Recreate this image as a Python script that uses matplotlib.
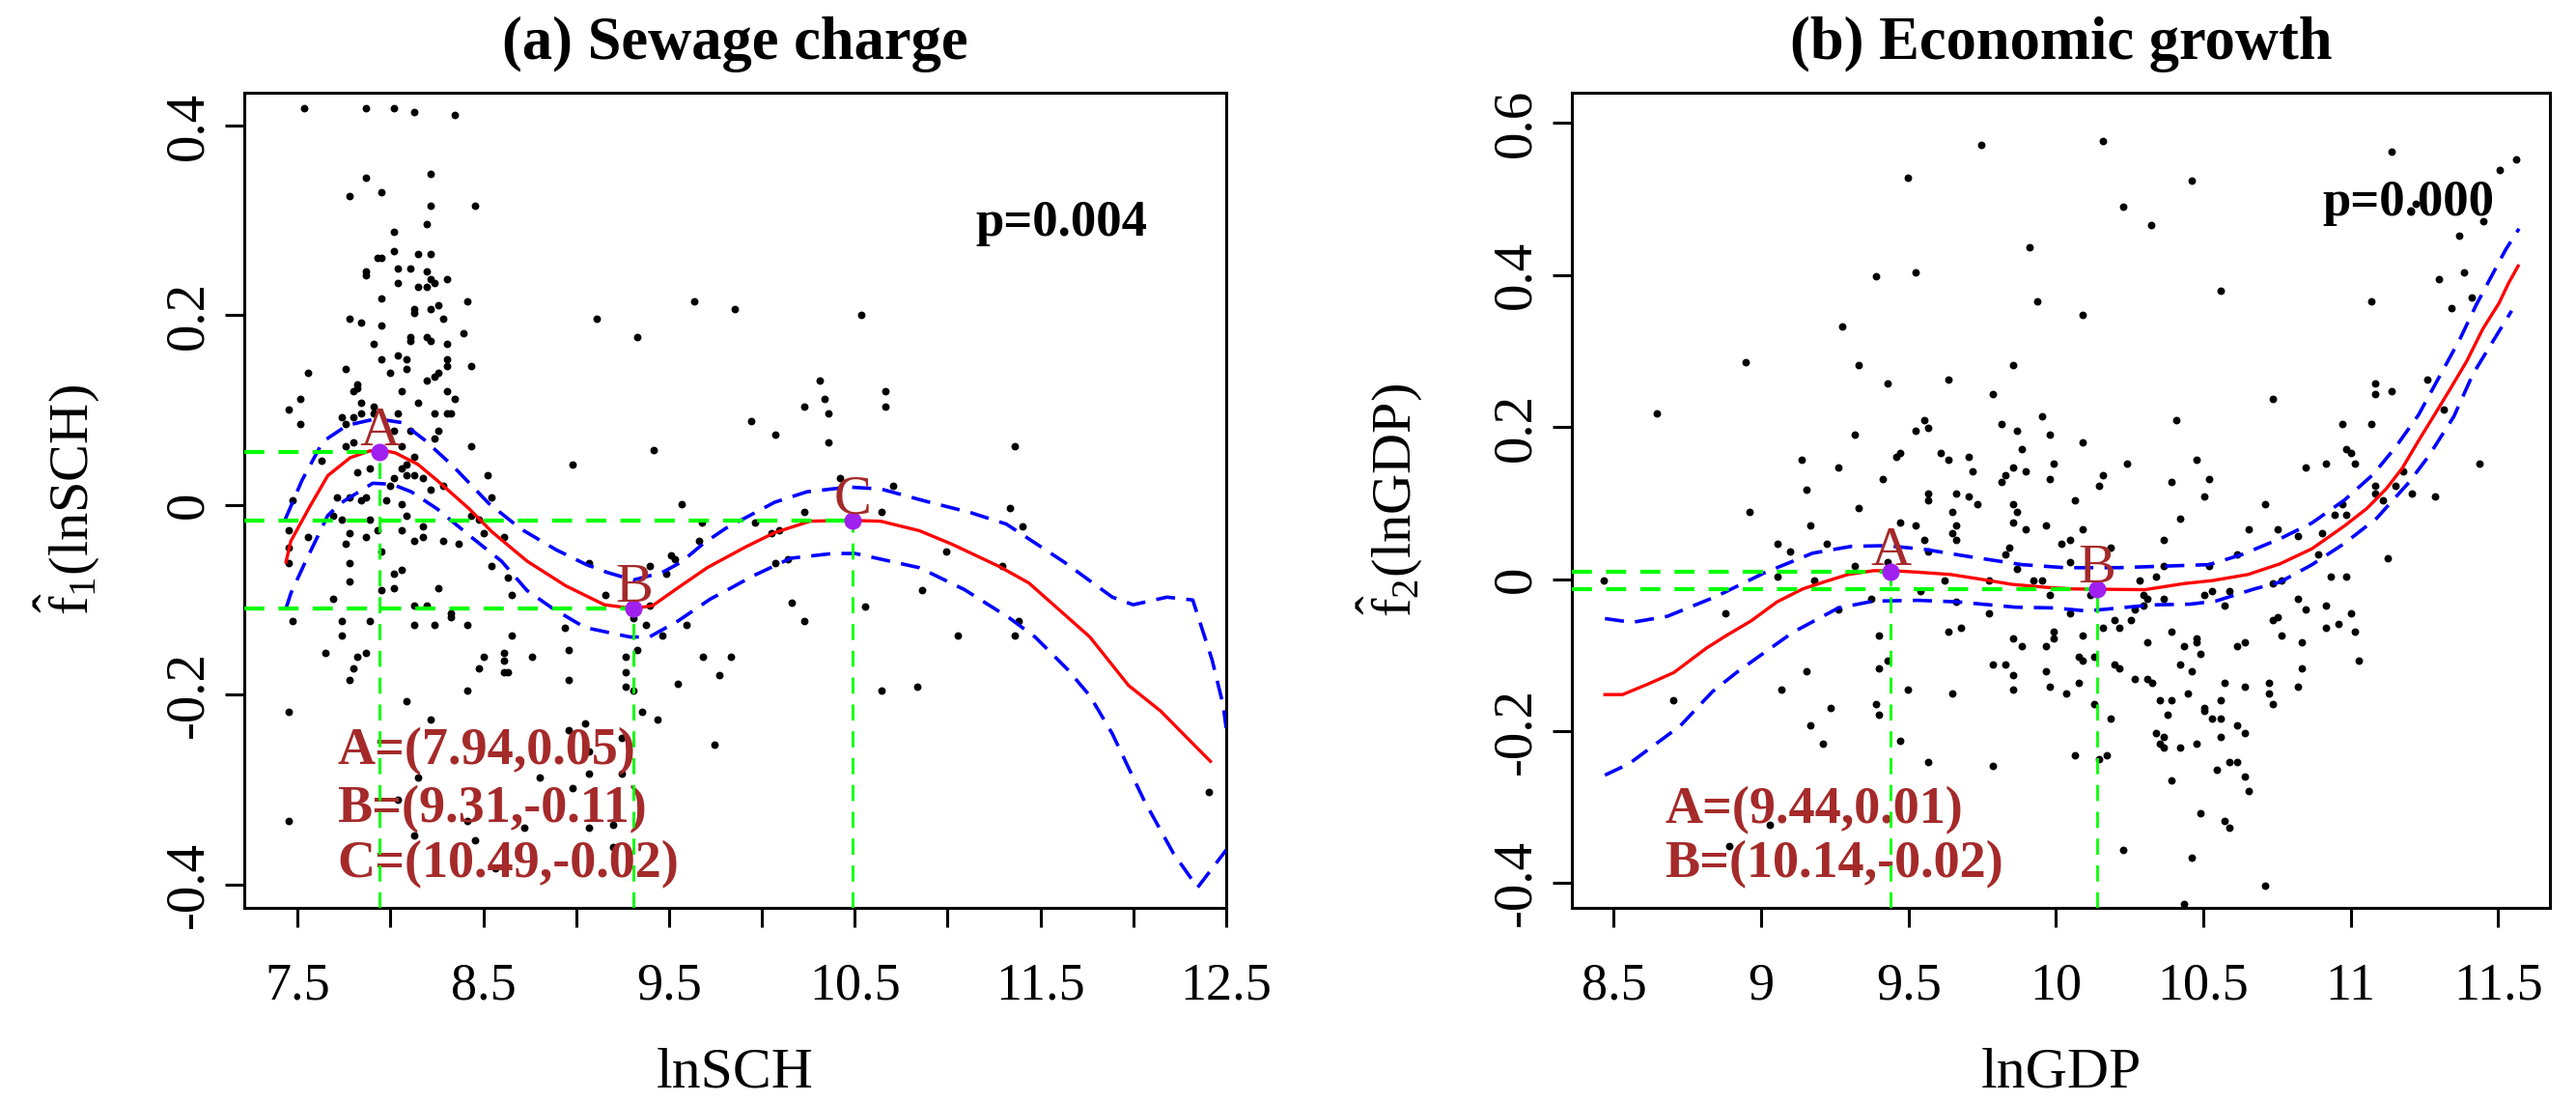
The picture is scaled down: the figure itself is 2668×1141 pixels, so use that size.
import numpy as np
import matplotlib
matplotlib.use('Agg')
import matplotlib.pyplot as plt

plt.rcParams['font.family'] = 'Liberation Serif'
plt.rcParams['mathtext.fontset'] = 'custom'
plt.rcParams['mathtext.rm'] = 'Liberation Serif'
plt.rcParams['mathtext.it'] = 'Liberation Serif:italic'
plt.rcParams['mathtext.bf'] = 'Liberation Serif:bold'

# ---------------- (a) sewage charge : partial residuals ----------------
sch_pts = [
    (7.537, 0.418), (7.866, 0.418), (8.019, 0.418), (8.129, 0.414), (8.348, 0.411),
    (7.866, 0.345), (8.216, 0.349), (7.778, 0.326), (7.953, 0.330), (8.216, 0.315),
    (8.457, 0.315), (8.193, 0.296), (8.019, 0.288), (8.019, 0.268), (8.150, 0.265),
    (8.216, 0.265), (7.932, 0.261), (7.953, 0.261), (8.041, 0.249), (8.107, 0.249),
    (7.866, 0.246), (8.193, 0.246), (7.866, 0.242), (8.216, 0.238), (8.238, 0.234),
    (8.303, 0.238), (8.041, 0.234), (8.150, 0.230), (8.193, 0.230), (7.953, 0.218),
    (8.413, 0.215), (8.260, 0.211), (8.216, 0.207), (8.129, 0.207), (8.129, 0.203),
    (7.778, 0.196), (7.843, 0.192), (8.282, 0.196), (7.953, 0.189), (8.391, 0.181),
    (8.107, 0.177), (8.193, 0.177), (8.107, 0.173), (8.216, 0.173), (7.910, 0.170),
    (8.303, 0.170), (8.041, 0.158), (7.953, 0.154), (8.084, 0.154), (8.303, 0.154),
    (7.757, 0.143), (8.084, 0.143), (8.303, 0.147), (8.434, 0.147), (7.558, 0.139),
    (7.996, 0.139), (8.260, 0.139), (8.238, 0.135), (8.193, 0.131), (7.821, 0.127),
    (7.821, 0.123), (7.800, 0.120), (8.062, 0.120), (8.303, 0.120), (7.515, 0.112),
    (8.348, 0.112), (7.843, 0.108), (8.150, 0.108), (7.910, 0.104), (7.451, 0.101),
    (7.843, 0.097), (7.910, 0.097), (8.041, 0.097), (8.238, 0.097), (8.303, 0.097),
    (8.325, 0.097), (7.735, 0.093), (7.800, 0.093), (7.515, 0.085), (7.757, 0.085),
    (8.260, 0.078), (8.107, 0.078), (8.019, 0.078), (8.238, 0.070), (7.800, 0.066),
    (7.757, 0.062), (8.062, 0.062), (8.434, 0.062), (7.626, 0.047), (8.129, 0.051),
    (7.887, 0.039), (7.821, 0.035), (8.062, 0.039), (8.084, 0.043), (8.084, 0.032),
    (8.129, 0.032), (8.173, 0.028), (8.019, 0.028), (8.216, 0.016), (8.282, 0.020),
    (7.996, 0.020), (7.714, 0.008), (7.778, 0.008), (7.866, 0.008), (7.843, 0.005),
    (7.975, 0.005), (8.062, 0.001), (7.471, 0.005), (7.691, -0.011), (7.735, -0.015),
    (7.887, -0.015), (8.084, -0.011), (7.451, -0.026), (7.932, -0.026), (8.062, -0.026),
    (8.173, -0.022), (7.778, -0.030), (7.558, -0.034), (7.866, -0.034), (8.129, -0.038),
    (8.173, -0.034), (8.282, -0.038), (8.369, -0.041), (7.757, -0.041), (7.451, -0.045),
    (7.953, -0.049), (7.451, -0.061), (7.778, -0.061), (8.019, -0.072), (8.062, -0.068),
    (7.778, -0.080), (7.953, -0.090), (8.019, -0.088), (8.260, -0.088),
    (9.111, 0.196), (9.331, 0.177), (9.636, 0.215), (9.854, 0.207), (8.981, 0.043),
    (9.418, 0.058), (8.522, 0.032), (8.543, 0.008), (8.434, -0.011), (8.478, -0.015),
    (8.500, -0.030), (8.609, -0.034), (9.570, 0.001), (9.679, -0.018), (9.659, -0.038),
    (9.068, -0.061), (9.508, -0.053), (9.532, -0.057), (9.397, -0.064), (9.486, -0.072),
    (8.543, -0.064), (8.631, -0.076),
    (7.691, -0.099), (8.129, -0.106), (8.193, -0.106), (8.325, -0.114), (8.325, -0.118),
    (9.155, -0.095), (9.397, -0.106), (9.309, -0.119), (8.652, -0.095), (7.471, -0.122),
    (7.735, -0.122), (7.887, -0.122), (8.129, -0.126), (8.238, -0.126), (8.413, -0.126),
    (8.937, -0.129), (9.374, -0.126), (9.593, -0.126), (7.735, -0.137), (8.652, -0.137),
    (9.463, -0.137), (7.648, -0.156), (7.865, -0.156), (7.821, -0.160), (8.500, -0.160),
    (8.609, -0.156), (8.762, -0.160), (8.959, -0.153), (9.265, -0.160), (9.331, -0.153),
    (9.681, -0.160), (9.833, -0.160), (7.800, -0.172), (8.478, -0.172), (8.609, -0.164),
    (8.609, -0.176), (8.631, -0.176), (9.265, -0.176), (7.778, -0.184), (8.959, -0.184),
    (9.768, -0.179), (9.265, -0.191), (9.309, -0.195), (9.549, -0.188), (8.413, -0.195),
    (8.084, -0.207), (7.451, -0.218), (9.352, -0.218), (8.216, -0.226), (9.440, -0.226),
    (8.959, -0.237), (9.047, -0.230), (9.245, -0.245), (9.747, -0.252), (9.068, -0.260),
    (8.150, -0.287), (8.805, -0.287), (9.068, -0.283), (9.245, -0.283), (8.981, -0.298),
    (8.041, -0.310), (8.413, -0.333), (8.720, -0.340), (9.068, -0.340), (9.200, -0.337),
    (7.451, -0.333), (8.129, -0.348), (8.457, -0.353), (9.200, -0.360), (8.564, -0.383),
    (10.533, 0.200), (10.313, 0.131), (10.663, 0.120), (10.663, 0.104), (10.226, 0.104),
    (10.335, 0.112), (10.358, 0.097), (9.942, 0.089), (10.072, 0.074), (10.358, 0.066),
    (11.359, 0.062), (10.422, 0.028), (10.708, 0.020), (10.226, -0.007), (10.642, -0.007),
    (11.336, -0.003), (11.402, -0.022), (9.965, -0.018), (10.051, -0.030), (10.095, -0.026),
    (10.992, -0.049), (10.072, -0.061), (10.138, -0.057), (11.293, -0.064), (10.860, -0.090),
    (10.161, -0.103), (10.226, -0.122), (10.554, -0.107), (11.056, -0.137), (11.359, -0.137),
    (11.381, -0.122), (10.642, -0.195), (10.838, -0.191), (12.406, -0.302),
]

sch_fit = [
    (7.437, -0.060), (7.463, -0.038), (7.567, -0.001), (7.662, 0.031), (7.783, 0.050),
    (7.887, 0.057), (7.956, 0.058), (8.026, 0.055), (8.147, 0.043), (8.251, 0.026),
    (8.424, -0.004), (8.545, -0.028), (8.735, -0.059), (8.943, -0.085), (9.151, -0.105),
    (9.307, -0.109), (9.411, -0.106), (9.549, -0.087), (9.705, -0.066), (9.913, -0.044),
    (10.069, -0.029), (10.259, -0.017), (10.467, -0.016), (10.640, -0.017), (10.848, -0.027),
    (11.021, -0.041), (11.281, -0.065), (11.437, -0.082), (11.593, -0.109), (11.766, -0.139),
    (11.974, -0.190), (12.147, -0.217), (12.268, -0.241), (12.415, -0.270),
]
sch_upper = [
    (7.433, -0.015), (7.523, 0.026), (7.636, 0.067), (7.766, 0.084), (7.922, 0.091),
    (8.060, 0.087), (8.181, 0.069), (8.337, 0.041), (8.528, 0.002), (8.701, -0.025),
    (8.891, -0.047), (9.047, -0.062), (9.168, -0.071), (9.307, -0.079), (9.463, -0.071),
    (9.566, -0.060), (9.688, -0.040), (9.809, -0.024), (10.069, 0.003), (10.242, 0.014),
    (10.467, 0.019), (10.640, 0.017), (10.883, 0.004), (11.125, -0.008), (11.316, -0.020),
    (11.627, -0.060), (11.887, -0.097), (11.999, -0.105), (12.181, -0.097), (12.320, -0.100),
    (12.424, -0.163), (12.484, -0.211), (12.500, -0.235),
]
sch_lower = [
    (7.437, -0.109), (7.463, -0.093), (7.541, -0.060), (7.662, -0.011), (7.731, 0.002),
    (7.904, 0.023), (8.008, 0.022), (8.112, 0.014), (8.251, -0.004), (8.424, -0.032),
    (8.597, -0.059), (8.735, -0.090), (8.874, -0.109), (9.047, -0.129), (9.290, -0.139),
    (9.394, -0.139), (9.549, -0.122), (9.722, -0.099), (9.809, -0.090), (9.948, -0.075),
    (10.155, -0.056), (10.380, -0.051), (10.502, -0.051), (10.848, -0.066), (11.090, -0.089),
    (11.333, -0.119), (11.471, -0.139), (11.645, -0.173), (11.766, -0.201), (11.887, -0.241),
    (12.060, -0.312), (12.216, -0.367), (12.346, -0.403), (12.502, -0.363),
]
sch_turn_name = ['A', 'B', 'C']
sch_turn_x = [7.94, 9.31, 10.49]
sch_turn_y = [0.056, -0.109, -0.016]
sch_turn_text = ['A=(7.94,0.05)', 'B=(9.31,-0.11)', 'C=(10.49,-0.02)']
sch_xticks = [7.5, 8, 8.5, 9, 9.5, 10, 10.5, 11, 11.5, 12, 12.5]
sch_xticklabels = ['7.5', '', '8.5', '', '9.5', '', '10.5', '', '11.5', '', '12.5']
sch_yticks = [-0.4, -0.2, 0, 0.2, 0.4]
sch_yticklabels = ['-0.4', '-0.2', '0', '0.2', '0.4']

# ---------------- (b) economic growth : partial residuals ----------------
gdp_pts = [
    (9.746, 0.571), (9.497, 0.528), (9.912, 0.437), (9.388, 0.399), (9.524, 0.404),
    (9.938, 0.365), (9.276, 0.333), (8.947, 0.285), (9.332, 0.281), (9.428, 0.257),
    (9.636, 0.262), (9.855, 0.281), (9.787, 0.243), (8.646, 0.218),
    (9.952, 0.214), (9.816, 0.204), (9.553, 0.209), (9.525, 0.195), (9.567, 0.199),
    (9.869, 0.195), (9.980, 0.190), (9.318, 0.190), (9.139, 0.157), (9.262, 0.147),
    (9.457, 0.161), (9.470, 0.166), (9.609, 0.166), (9.636, 0.157), (9.705, 0.161),
    (9.718, 0.142), (9.884, 0.171), (9.856, 0.147), (9.829, 0.137), (9.816, 0.128),
    (9.897, 0.142), (9.993, 0.152), (9.980, 0.132), (9.414, 0.132), (9.153, 0.118),
    (9.567, 0.113), (9.567, 0.104), (9.663, 0.113), (9.705, 0.109), (9.732, 0.099),
    (8.960, 0.089), (9.332, 0.094), (9.649, 0.089), (9.856, 0.099), (9.869, 0.089),
    (9.166, 0.070), (9.470, 0.075), (9.525, 0.070), (9.663, 0.070), (9.649, 0.061),
    (9.663, 0.051), (9.856, 0.075), (9.897, 0.066), (9.966, 0.070), (9.057, 0.046),
    (9.098, 0.036), (9.222, 0.046), (9.553, 0.051), (9.567, 0.036), (9.842, 0.041),
    (9.829, 0.032), (9.869, 0.013), (9.318, 0.017), (9.428, 0.022), (9.057, 0.003),
    (9.181, -0.002), (9.621, -0.002), (9.773, -0.002), (9.925, -0.002), (9.952, -0.002),
    (8.466, -0.002), (9.540, -0.016), (9.980, -0.021), (8.878, -0.045), (9.374, -0.026),
    (9.262, -0.040), (9.663, -0.030), (9.773, -0.045), (9.636, -0.069), (9.677, -0.064),
    (9.856, -0.078), (9.884, -0.088), (9.966, -0.088), (9.993, -0.069), (9.993, -0.078),
    (9.401, -0.074), (9.428, -0.107), (9.401, -0.117), (9.153, -0.121), (9.787, -0.112),
    (9.829, -0.112), (9.856, -0.126), (9.966, -0.121), (9.856, -0.146), (9.980, -0.141),
    (9.070, -0.146), (9.497, -0.146), (9.649, -0.150), (8.701, -0.160), (9.236, -0.169),
    (9.388, -0.165), (9.401, -0.179), (9.166, -0.193), (9.208, -0.217), (9.470, -0.213),
    (9.567, -0.241), (9.787, -0.246), (9.030, -0.323), (8.891, -0.351),
    (10.160, 0.576), (11.138, 0.562), (11.562, 0.552), (11.507, 0.538), (10.462, 0.524),
    (10.227, 0.490), (10.324, 0.466), (11.219, 0.494), (11.451, 0.471), (11.368, 0.452),
    (10.558, 0.380), (11.383, 0.404), (11.300, 0.395), (11.410, 0.370), (11.341, 0.356),
    (11.069, 0.365), (10.091, 0.348), (11.082, 0.257), (11.082, 0.243), (11.138, 0.247),
    (11.259, 0.262), (10.737, 0.237), (11.314, 0.223),
    (10.407, 0.209), (10.972, 0.204), (11.069, 0.204), (10.091, 0.180), (10.986, 0.171),
    (11.000, 0.166), (10.242, 0.152), (10.476, 0.157), (10.848, 0.147), (10.917, 0.152),
    (11.014, 0.152), (11.438, 0.152), (10.160, 0.137), (10.146, 0.123), (10.393, 0.128),
    (10.518, 0.132), (11.178, 0.142), (11.082, 0.123), (11.151, 0.123), (11.082, 0.113),
    (11.206, 0.113), (11.287, 0.109), (11.110, 0.104), (10.063, 0.104), (10.504, 0.109),
    (10.710, 0.099), (10.972, 0.099), (10.422, 0.080), (10.945, 0.085), (10.986, 0.085),
    (10.091, 0.066), (10.654, 0.066), (10.752, 0.066), (10.020, 0.047), (10.048, 0.051),
    (10.365, 0.051), (10.186, 0.041), (10.903, 0.061), (10.820, 0.056), (11.124, 0.027),
    (10.048, 0.022), (10.365, 0.017), (10.518, 0.017), (10.614, 0.032), (10.889, 0.032),
    (10.283, -0.002), (10.338, 0.003), (10.931, 0.003), (10.986, 0.003), (10.765, -0.002),
    (10.737, -0.006), (10.117, -0.021), (10.297, -0.021), (10.310, -0.026), (10.365, -0.026),
    (10.504, -0.021), (10.531, -0.016), (10.587, -0.016), (10.573, -0.035), (10.297, -0.035),
    (10.269, -0.040), (10.048, -0.045), (10.820, -0.026), (10.848, -0.040), (10.917, -0.035),
    (11.000, -0.045), (10.200, -0.054), (10.255, -0.054), (10.160, -0.064), (10.214, -0.064),
    (10.737, -0.054), (10.752, -0.050), (10.917, -0.064), (10.959, -0.059), (11.014, -0.069),
    (10.091, -0.074), (10.393, -0.069), (10.310, -0.083), (10.476, -0.078), (10.476, -0.083),
    (10.435, -0.088), (10.614, -0.088), (10.641, -0.083), (10.765, -0.074), (10.834, -0.083),
    (10.491, -0.098), (10.077, -0.102), (10.091, -0.107), (10.131, -0.102), (10.200, -0.112),
    (10.214, -0.117), (10.422, -0.112), (10.462, -0.121), (10.834, -0.117), (11.028, -0.107),
    (10.269, -0.131), (10.310, -0.131), (10.325, -0.136), (10.077, -0.136), (10.034, -0.150),
    (10.449, -0.150), (10.573, -0.136), (10.641, -0.141), (10.724, -0.136), (10.724, -0.150),
    (10.820, -0.141), (10.737, -0.165), (10.131, -0.165), (10.352, -0.160), (10.393, -0.160),
    (10.559, -0.160), (10.504, -0.169), (10.504, -0.174), (10.379, -0.179), (10.531, -0.184),
    (10.559, -0.184), (10.186, -0.184), (10.614, -0.193), (10.641, -0.203), (10.338, -0.203),
    (10.365, -0.208), (10.559, -0.208), (10.352, -0.217), (10.365, -0.222), (10.422, -0.222),
    (10.476, -0.217), (10.063, -0.232), (10.146, -0.237), (10.173, -0.232), (10.587, -0.241),
    (10.614, -0.241), (10.545, -0.251), (10.641, -0.260), (10.654, -0.279), (10.393, -0.265),
    (10.491, -0.308), (10.573, -0.318), (10.587, -0.327), (10.227, -0.356), (10.462, -0.366),
    (10.710, -0.404), (10.435, -0.428),
]

gdp_fit = [
    (8.470, -0.152), (8.530, -0.152), (8.617, -0.138), (8.704, -0.123), (8.814, -0.091),
    (8.879, -0.075), (8.966, -0.055), (9.054, -0.030), (9.141, -0.013), (9.228, -0.002),
    (9.294, 0.006), (9.381, 0.011), (9.447, 0.011), (9.534, 0.009), (9.643, 0.006),
    (9.742, 0.000), (9.851, -0.007), (9.971, -0.011), (10.058, -0.013), (10.302, -0.014),
    (10.433, -0.006), (10.531, -0.002), (10.651, 0.006), (10.760, 0.020), (10.869, 0.040),
    (10.979, 0.070), (11.055, 0.093), (11.121, 0.119), (11.175, 0.146), (11.230, 0.182),
    (11.284, 0.216), (11.339, 0.251), (11.394, 0.287), (11.448, 0.329), (11.503, 0.363),
    (11.535, 0.389), (11.568, 0.412),
]
gdp_upper = [
    (8.470, -0.052), (8.562, -0.057), (8.682, -0.049), (8.847, -0.023), (9.010, 0.008),
    (9.174, 0.034), (9.305, 0.043), (9.425, 0.044), (9.556, 0.039), (9.698, 0.030),
    (9.884, 0.019), (10.029, 0.015), (10.214, 0.015), (10.520, 0.019), (10.629, 0.032),
    (10.760, 0.053), (10.869, 0.074), (10.979, 0.104), (11.077, 0.138), (11.153, 0.174),
    (11.230, 0.216), (11.306, 0.270), (11.372, 0.317), (11.426, 0.361), (11.481, 0.401),
    (11.525, 0.433), (11.571, 0.461),
]
gdp_lower = [
    (8.470, -0.258), (8.552, -0.243), (8.726, -0.193), (8.835, -0.148), (8.923, -0.121),
    (9.108, -0.070), (9.262, -0.038), (9.381, -0.029), (9.534, -0.028), (9.665, -0.030),
    (9.862, -0.037), (9.993, -0.038), (10.105, -0.042), (10.324, -0.034), (10.455, -0.033),
    (10.542, -0.029), (10.673, -0.013), (10.760, -0.004), (10.869, 0.019), (10.979, 0.047),
    (11.088, 0.080), (11.197, 0.127), (11.263, 0.161), (11.350, 0.214), (11.415, 0.270),
    (11.481, 0.312), (11.546, 0.353),
]
gdp_turn_name = ['A', 'B']
gdp_turn_x = [9.44, 10.14]
gdp_turn_y = [0.010, -0.013]
gdp_turn_text = ['A=(9.44,0.01)', 'B=(10.14,-0.02)']
gdp_xticks = [8.5, 9, 9.5, 10, 10.5, 11, 11.5]
gdp_xticklabels = ['8.5', '9', '9.5', '10', '10.5', '11', '11.5']
gdp_yticks = [-0.4, -0.2, 0, 0.2, 0.4, 0.6]
gdp_yticklabels = ['-0.4', '-0.2', '0', '0.2', '0.4', '0.6']

BROWN = '#A52A2A'
PURPLE = '#A020F0'
GREEN = '#00FF00'


def draw_panel(ax, pts, fit, upper, lower, names, tx, ty, texts, text_y,
               pval, pval_pos, xlim, ylim, xt, xtl, yt, ytl):
    px, py = np.array(pts).T
    ax.scatter(px, py, s=32, color='black', linewidths=0, zorder=2)

    for band in (upper, lower):
        bx, by = np.array(band).T
        ax.plot(bx, by, color='blue', lw=2.6, dashes=(5.5, 3.2), zorder=3)
    fx, fy = np.array(fit).T
    ax.plot(fx, fy, color='red', lw=2.4, zorder=4)

    for i, t in enumerate(texts):
        ax.text(0.095, text_y[i], t, transform=ax.transAxes, fontsize=39,
                fontweight='bold', color=BROWN, va='baseline', zorder=2)

    for n, x, y in zip(names, tx, ty):
        ax.plot([xlim[0], x], [y, y], color=GREEN, lw=3, dashes=(5, 3.5), zorder=5)
        ax.plot([x, x], [ylim[0], y], color=GREEN, lw=2, dashes=(6, 4), zorder=5)
        ax.plot(x, y, 'o', color=PURPLE, ms=12, mec=PURPLE, zorder=6)
        ax.annotate(n, (x, y), xytext=(0, 5), textcoords='offset points',
                    ha='center', va='baseline', fontsize=42, color=BROWN, zorder=7)

    ax.text(pval_pos[0], pval_pos[1], pval, transform=ax.transAxes, fontsize=38,
            fontweight='bold', va='baseline')

    ax.set_xlim(xlim)
    ax.set_ylim(ylim)
    ax.set_xticks(xt)
    ax.set_xticklabels(xtl)
    ax.set_yticks(yt)
    ax.set_yticklabels(ytl, rotation=90, va='center')
    ax.tick_params(axis='both', direction='out', length=14.4, width=2.2)
    ax.tick_params(axis='x', labelsize=39, pad=26)
    ax.tick_params(axis='y', labelsize=41, pad=8)
    for sp in ax.spines.values():
        sp.set_linewidth(2.2)


fig = plt.figure(figsize=(26.68, 11.41), dpi=100)
ax1 = fig.add_axes([0.0948, 0.1762, 0.3812, 0.7397])
ax2 = fig.add_axes([0.6101, 0.1762, 0.3798, 0.7397])

draw_panel(ax1, sch_pts, sch_fit, sch_upper, sch_lower,
           sch_turn_name, sch_turn_x, sch_turn_y, sch_turn_text, [0.176, 0.105, 0.038],
           'p=0.004', (0.745, 0.825), (7.212, 12.49), (-0.4244, 0.4346),
           sch_xticks, sch_xticklabels, sch_yticks, sch_yticklabels)
draw_panel(ax2, gdp_pts, gdp_fit, gdp_upper, gdp_lower,
           gdp_turn_name, gdp_turn_x, gdp_turn_y, gdp_turn_text, [0.1035, 0.0376],
           'p=0.000', (0.767, 0.850), (8.357, 11.676), (-0.4326, 0.640),
           gdp_xticks, gdp_xticklabels, gdp_yticks, gdp_yticklabels)

fig.text(0.2854, 0.9465, '(a) Sewage charge', ha='center', va='baseline',
         fontsize=45, fontweight='bold')
fig.text(0.8000, 0.9465, '(b) Economic growth', ha='center', va='baseline',
         fontsize=45, fontweight='bold')
fig.text(0.2854, 0.0132, 'lnSCH', ha='center', va='baseline', fontsize=43)
fig.text(0.8000, 0.0132, 'lnGDP', ha='center', va='baseline', fontsize=43)
fig.text(0.0262, 0.546, r'$\hat{\mathrm{f}}_{1}$(lnSCH)', rotation=90,
         ha='center', va='center', fontsize=42)
fig.text(0.5397, 0.546, r'$\hat{\mathrm{f}}_{2}$(lnGDP)', rotation=90,
         ha='center', va='center', fontsize=42)

fig.savefig('out.png', dpi=100)
